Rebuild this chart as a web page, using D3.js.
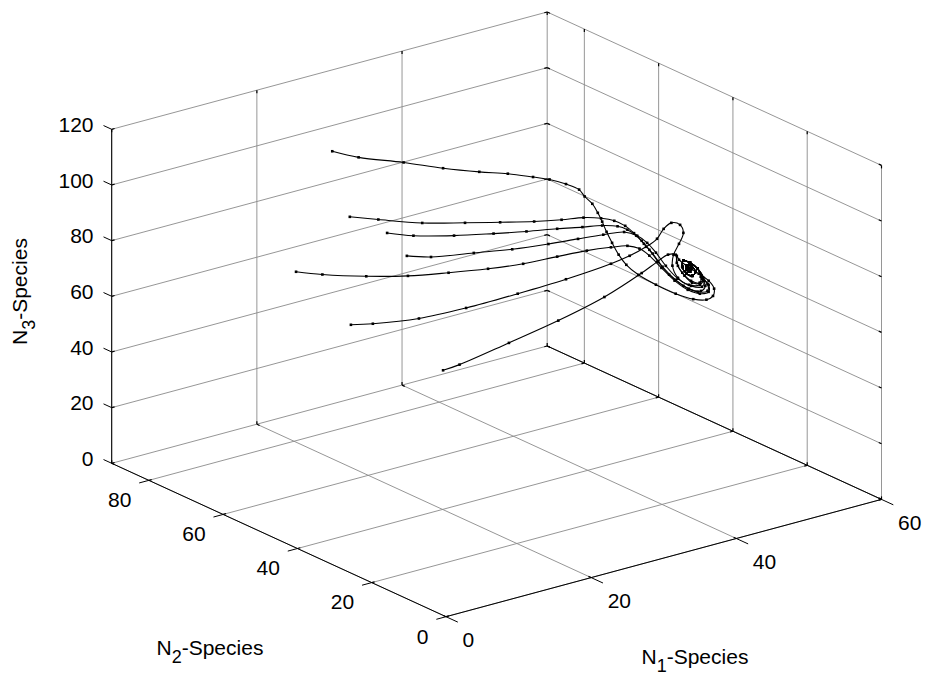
<!DOCTYPE html>
<html>
<head>
<meta charset="utf-8">
<script src="https://cdn.jsdelivr.net/npm/d3@7"></script>
<style>
  body { margin: 0; background: #fff; }
  text { font-family: "Liberation Sans", Arial, Helvetica, sans-serif; fill: #000; }
</style>
</head>
<body>
<script>
// axis limits and ticks
const n1Max = 60, n2Max = 90, n3Max = 120;
const n1Ticks = [0, 20, 40, 60];
const n2Ticks = [0, 20, 40, 60, 80];
const n3Ticks = [0, 20, 40, 60, 80, 100, 120];

// trajectories, points are [N1, N2, N3]
const trajA = [[20.1,69.9,110.3],[22.5,67.5,107.9],[26.6,63.4,105.7],[30.2,59.8,103.3],[33.5,56.5,101.7],
  [36.1,53.9,100.8],[38.4,51.6,99.4],[39.9,50.1,98.4],[41.4,48.6,96.6],[42.6,47.4,94.5],[43.1,46.9,92.0],
  [43.8,46.2,89.3],[44.3,45.7,86.0],[44.7,45.3,82.8],[45.1,44.9,79.1],[45.6,44.4,75.1],[46.2,43.8,70.8],
  [46.9,43.1,67.1],[48.0,42.0,63.4],[49.6,40.4,59.7],[51.4,38.6,56.3],[53.0,37.0,54.2],[54.2,35.8,53.9],
  [54.8,35.2,55.2],[54.9,35.1,57.8],[54.4,35.6,60.7],[53.5,36.5,63.3],[52.5,37.5,65.9],[51.7,38.3,68.5],
  [51.5,38.5,69.9],[51.6,38.4,66.3],[52.2,37.8,62.7],[52.9,37.1,60.1],[53.6,36.4,60.0],[53.7,36.3,62.2]];
const trajB = [[21.7,68.3,86.6],[24.3,65.7,85.4],[28.3,61.7,83.8],[32.2,57.8,83.5],[35.4,54.6,83.4],
  [38.5,51.5,83.4],[41.0,49.0,83.8],[43.0,47.0,84.4],[44.6,45.4,84.0],[45.8,44.2,83.0],[46.8,43.2,81.1],
  [47.6,42.4,78.4],[48.3,41.7,75.6],[49.0,41.0,72.3],[49.8,40.2,67.9],[50.8,39.2,63.2],[52.1,37.9,59.1],
  [53.4,36.6,56.8],[54.3,35.7,57.1],[54.3,35.7,59.6],[53.7,36.3,62.2]];
const trajC = [[25.1,64.9,80.5],[27.5,62.5,79.3],[31.2,58.8,79.0],[34.8,55.2,79.4],[37.8,52.2,79.9],
  [40.6,49.4,80.6],[42.9,47.1,81.0],[44.7,45.3,81.4],[46.1,43.9,81.0],[47.0,43.0,79.7],[47.8,42.2,77.5],
  [48.5,41.5,74.5],[49.3,40.7,70.9],[50.2,39.8,66.1],[51.4,38.6,61.3],[52.6,37.4,58.0],[53.7,36.3,57.1],
  [54.1,35.9,58.9],[53.8,36.2,61.4]];
const trajD = [[26.9,63.1,72.1],[29.1,60.9,71.5],[33.0,57.0,72.6],[36.5,53.5,73.6],[39.8,50.2,75.2],
  [42.5,47.5,76.8],[44.8,45.2,78.1],[46.7,43.3,78.9],[47.9,42.1,77.4],[48.8,41.2,74.8],[49.6,40.4,71.2],
  [50.5,39.5,66.4],[51.6,38.4,61.7],[52.8,37.2,59.0],[53.8,36.2,58.6],[54.0,36.0,60.7]];
const trajE = [[16.8,73.2,67.3],[19.2,70.8,66.1],[23.2,66.8,65.1],[27.0,63.0,64.9],[30.7,59.3,65.7],
  [34.3,55.7,66.8],[37.5,52.5,68.3],[40.6,49.4,70.6],[43.3,46.7,72.5],[45.5,44.5,73.5],[47.0,43.0,73.9],
  [48.1,41.9,72.8],[49.0,41.0,70.2],[50.1,39.9,65.7],[51.3,38.7,61.0],[52.5,37.5,57.6],[53.6,36.4,56.1],
  [54.4,35.6,56.7],[54.4,35.6,59.2],[53.8,36.2,61.8]];
const trajF = [[21.8,68.2,47.8],[23.8,66.2,48.0],[28.0,62.0,49.5],[32.3,57.7,52.9],[37.0,53.0,57.6],
  [41.4,48.6,62.4],[45.5,44.5,67.6],[47.2,42.8,70.3],[48.7,41.3,73.4],[49.7,40.3,76.2],[50.3,39.7,79.7],
  [51.0,39.0,81.8],[51.8,38.2,81.0],[52.1,37.9,78.1],[51.7,38.3,74.2],[51.2,38.8,70.3],[51.1,38.9,66.4],
  [51.6,38.4,62.0],[52.6,37.4,59.4],[53.6,36.4,59.3],[53.9,36.1,61.4]];
const trajG = [[30.2,59.8,30.7],[31.7,58.3,32.6],[36.2,53.8,40.0],[40.7,49.3,47.6],[44.9,45.1,55.7],
  [48.3,41.7,64.0],[49.7,40.3,67.9],[50.7,39.3,70.4],[51.4,38.6,70.3],[51.5,38.5,67.4],[52.0,38.0,63.8],
  [52.8,37.2,60.8],[53.6,36.4,60.0],[53.9,36.1,61.8]];
// last turns of the spiral towards the equilibrium (all runs end here)
const spiralEnd = [[53.4,36.6,65.1],[52.7,37.3,67.3],[52.1,37.9,68.1],[52.0,38.0,65.9],[52.4,37.6,63.4],
  [52.9,37.1,62.6],[53.2,36.8,64.0],[52.8,37.2,66.2],[52.4,37.6,66.3],[52.4,37.6,64.8],[52.7,37.3,64.1],
  [52.8,37.2,65.1],[52.6,37.4,65.3]];

const width = 926, height = 676;
const svg = d3.select('body').append('svg')
  .attr('width', width)
  .attr('height', height);

// view: azimuth/elevation baked into three screen vectors
const origin = [446, 616.7];
const p1x = d3.scaleLinear([0, n1Max], [0, 435.5]);
const p1y = d3.scaleLinear([0, n1Max], [0, -117.3]);
const p2x = d3.scaleLinear([0, n2Max], [0, -334.3]);
const p2y = d3.scaleLinear([0, n2Max], [0, -153.4]);
const p3y = d3.scaleLinear([0, n3Max], [0, -334]);

function proj(p) {
  return [origin[0] + p1x(p[0]) + p2x(p[1]), origin[1] + p1y(p[0]) + p2y(p[1]) + p3y(p[2])];
}

function unit(v) {
  const l = Math.hypot(v[0], v[1]);
  return [v[0] / l, v[1] / l];
}

// grid segments on floor and the two back walls
const grid = [];
n1Ticks.forEach(t => grid.push([[t, 0, 0], [t, n2Max, 0]]));
n2Ticks.forEach(t => grid.push([[0, t, 0], [n1Max, t, 0]]));
n1Ticks.forEach(t => grid.push([[t, n2Max, 0], [t, n2Max, n3Max]]));
n3Ticks.forEach(t => grid.push([[0, n2Max, t], [n1Max, n2Max, t]]));
n2Ticks.forEach(t => grid.push([[n1Max, t, 0], [n1Max, t, n3Max]]));
n3Ticks.forEach(t => grid.push([[n1Max, 0, t], [n1Max, n2Max, t]]));

const gGrid = svg.append('g');
gGrid.selectAll('line')
  .data(grid)
  .join('line')
  .attr('x1', d => proj(d[0])[0])
  .attr('y1', d => proj(d[0])[1])
  .attr('x2', d => proj(d[1])[0])
  .attr('y2', d => proj(d[1])[1])
  .attr('stroke', '#8a8a8a')
  .attr('stroke-width', 0.9);

// short dark ticks where grid lines meet the box edges
const stubs = [];
grid.forEach(d => {
  const a = proj(d[0]), b = proj(d[1]);
  const u = unit([b[0] - a[0], b[1] - a[1]]);
  stubs.push([a, [a[0] + 3 * u[0], a[1] + 3 * u[1]]]);
  stubs.push([b, [b[0] - 3 * u[0], b[1] - 3 * u[1]]]);
});
gGrid.append('g').selectAll('line')
  .data(stubs)
  .join('line')
  .attr('x1', d => d[0][0]).attr('y1', d => d[0][1])
  .attr('x2', d => d[1][0]).attr('y2', d => d[1][1])
  .attr('stroke', '#000')
  .attr('stroke-width', 1.2);

// axis lines
const axes = [
  [[0, 0, 0], [n1Max, 0, 0]],
  [[0, 0, 0], [0, n2Max, 0]],
  [[0, n2Max, 0], [0, n2Max, n3Max]],
  [[n1Max, 0, 0], [n1Max, n2Max, 0]]
];
svg.append('g').selectAll('line')
  .data(axes)
  .join('line')
  .attr('x1', d => proj(d[0])[0])
  .attr('y1', d => proj(d[0])[1])
  .attr('x2', d => proj(d[1])[0])
  .attr('y2', d => proj(d[1])[1])
  .attr('stroke', '#000')
  .attr('stroke-width', 1);

const dirN1 = unit([-p2x(n2Max), -p2y(n2Max)]);   // ticks of N1 point away from N2
const dirN2 = unit([-p1x(n1Max), -p1y(n1Max)]);   // ticks of N2 point away from N1
const dirN3 = unit([p2x(n2Max), p2y(n2Max)]);

const gTicks = svg.append('g');
function tickMarks(data, pos, dir, len) {
  gTicks.append('g').selectAll('line')
    .data(data)
    .join('line')
    .attr('x1', d => pos(d)[0])
    .attr('y1', d => pos(d)[1])
    .attr('x2', d => pos(d)[0] + len * dir[0])
    .attr('y2', d => pos(d)[1] + len * dir[1])
    .attr('stroke', '#000')
    .attr('stroke-width', 1);
}
tickMarks(n1Ticks, t => proj([t, 0, 0]), dirN1, 13);
tickMarks(n2Ticks, t => proj([0, t, 0]), dirN2, 10);
tickMarks(n3Ticks, t => proj([0, n2Max, t]), dirN3, 9);

const fs = 21;
gTicks.append('g').selectAll('text')
  .data(n1Ticks)
  .join('text')
  .attr('x', d => proj([d, 0, 0])[0] + 16.5)
  .attr('y', d => proj([d, 0, 0])[1] + 23)
  .attr('dy', '0.35em')
  .attr('font-size', fs)
  .text(d => d);

gTicks.append('g').selectAll('text')
  .data(n2Ticks)
  .join('text')
  .attr('x', d => proj([0, d, 0])[0] - 17.5)
  .attr('y', d => proj([0, d, 0])[1] + 19.5)
  .attr('dy', '0.35em')
  .attr('text-anchor', 'end')
  .attr('font-size', fs)
  .text(d => d);

gTicks.append('g').selectAll('text')
  .data(n3Ticks)
  .join('text')
  .attr('x', 93.5)
  .attr('y', d => proj([0, n2Max, d])[1] - 4.5)
  .attr('dy', '0.35em')
  .attr('text-anchor', 'end')
  .attr('font-size', fs)
  .text(d => d);

// axis titles with subscripts
function title(sel, sub) {
  sel.attr('font-size', fs);
  sel.append('tspan').text('N');
  sel.append('tspan').attr('dy', 8).attr('font-size', 18).text(sub);
  sel.append('tspan').attr('dy', -8).text('-Species');
}
title(svg.append('text').attr('x', 641.5).attr('y', 664), '1');
title(svg.append('text').attr('x', 156.5).attr('y', 655), '2');
title(svg.append('text').attr('transform', 'translate(27,345) rotate(-90)'), '3');

// trajectories
const runs = [trajA, trajB, trajC, trajD, trajE, trajF, trajG].map(t => t.concat(spiralEnd));
const line = d3.line()
  .x(d => proj(d)[0])
  .y(d => proj(d)[1])
  .curve(d3.curveCatmullRom.alpha(0.5));

const gRuns = svg.append('g');
gRuns.selectAll('path')
  .data(runs)
  .join('path')
  .attr('d', line)
  .attr('fill', 'none')
  .attr('stroke', '#000')
  .attr('stroke-width', 1.1);

gRuns.append('g').selectAll('rect')
  .data(runs.flat())
  .join('rect')
  .attr('x', d => proj(d)[0] - 1.3)
  .attr('y', d => proj(d)[1] - 1.3)
  .attr('width', 2.6)
  .attr('height', 2.6)
  .attr('fill', '#000');
</script>
</body>
</html>
